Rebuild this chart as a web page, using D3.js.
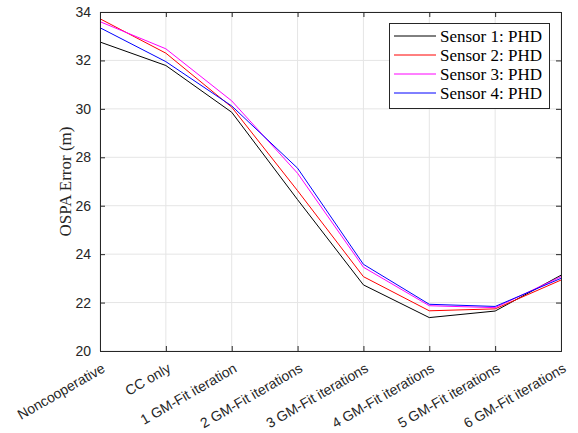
<!DOCTYPE html>
<html><head><meta charset="utf-8">
<script src="https://cdn.jsdelivr.net/npm/d3@7"></script>
<style>body{margin:0;background:#fff}</style>
</head><body><svg id="c" width="578" height="433"></svg>
<script>
const categories = ["Noncooperative","CC only","1 GM-Fit iteration","2 GM-Fit iterations","3 GM-Fit iterations","4 GM-Fit iterations","5 GM-Fit iterations","6 GM-Fit iterations"];
const seriesNames = ["Sensor 1: PHD","Sensor 2: PHD","Sensor 3: PHD","Sensor 4: PHD"];
const sensor1 = [32.76,31.79,29.86,26.25,22.73,21.38,21.65,23.13];
const sensor2 = [33.72,32.30,30.07,26.62,23.07,21.66,21.74,22.93];
const sensor3 = [33.60,32.48,30.33,27.34,23.46,21.87,21.79,23.07];
const sensor4 = [33.35,31.95,30.12,27.55,23.58,21.93,21.84,23.00];
const yTicks = [20,22,24,26,28,30,32,34];
const colors = ["#000000","#ff0000","#ff00ff","#0000ff"];
const series = [sensor1,sensor2,sensor3,sensor4];

const svg = d3.select("#c");
const L=100,R=561,T=12,B=351;
const x = d3.scalePoint().domain(categories).range([L,R]);
const y = d3.scaleLinear().domain([20,34]).range([B,T]);
const axc="#262626";

// grid
svg.append("g").selectAll("line").data(yTicks).join("line")
 .attr("x1",L).attr("x2",R).attr("y1",d=>y(d)).attr("y2",d=>y(d))
 .attr("stroke","#e5e5e5").attr("stroke-width",1);
svg.append("g").selectAll("line").data(categories).join("line")
 .attr("x1",d=>x(d)).attr("x2",d=>x(d)).attr("y1",T).attr("y2",B)
 .attr("stroke","#e5e5e5").attr("stroke-width",1);

// lines
const line = d3.line().x((d,i)=>x(categories[i])).y(d=>y(d));
series.forEach((s,k)=>{
  svg.append("path").attr("d",line(s)).attr("fill","none")
   .attr("stroke",colors[k]).attr("stroke-width",1);
});

// axes
const yAxis = d3.axisLeft(y).tickValues(yTicks).tickSize(-5).tickPadding(9);
const gy = svg.append("g").attr("transform",`translate(${L},0)`).call(yAxis);
gy.selectAll("text").attr("font-family","Liberation Sans, Arial, sans-serif").attr("font-size",14).attr("fill",axc);
const yAxisR = d3.axisRight(y).tickValues(yTicks).tickSize(-5).tickFormat("");
svg.append("g").attr("transform",`translate(${R},0)`).call(yAxisR);
const xAxis = d3.axisBottom(x).tickSize(-5).tickFormat("");
svg.append("g").attr("transform",`translate(0,${B})`).call(xAxis);
const xAxisT = d3.axisTop(x).tickSize(-5).tickFormat("");
svg.append("g").attr("transform",`translate(0,${T})`).call(xAxisT);
svg.selectAll(".domain").attr("stroke",axc);
svg.selectAll(".tick line").attr("stroke",axc);

// x labels rotated
svg.append("g").selectAll("text").data(categories).join("text")
 .attr("transform",d=>`translate(${x(d)+6},${B+20}) rotate(-30)`)
 .attr("text-anchor","end")
 .attr("font-family","Liberation Sans, Arial, sans-serif").attr("font-size",14).attr("fill",axc)
 .text(d=>d);

// y label
svg.append("text").attr("transform",`translate(71,${(T+B)/2}) rotate(-90)`)
 .attr("text-anchor","middle").attr("font-family","Liberation Serif, Times New Roman, serif")
 .attr("font-size",17).attr("fill",axc).text("OSPA Error (m)");

// legend
const lg = svg.append("g");
lg.append("rect").attr("x",389.5).attr("y",23.5).attr("width",160).attr("height",85)
 .attr("fill","#fff").attr("stroke",axc).attr("stroke-width",1);
seriesNames.forEach((n,k)=>{
  const yy = 36+k*19;
  lg.append("line").attr("x1",394).attr("x2",436).attr("y1",yy).attr("y2",yy)
   .attr("stroke",colors[k]).attr("stroke-width",1);
  lg.append("text").attr("x",440).attr("y",yy+6).attr("font-family","Liberation Serif, Times New Roman, serif")
   .attr("font-size",17).attr("fill","#000").text(n);
});
</script></body></html>
